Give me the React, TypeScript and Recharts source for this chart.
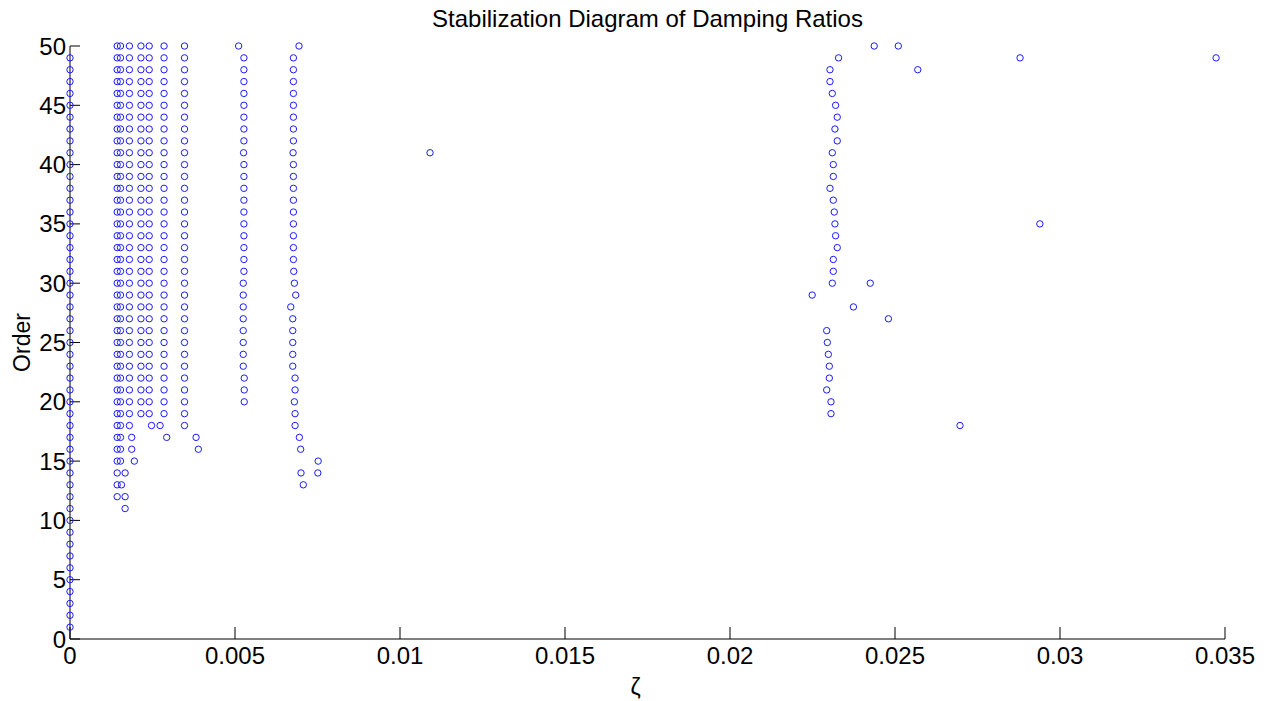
import React from 'react';
import { ScatterChart, Scatter, XAxis, YAxis, Label } from 'recharts';

type Pt = { zeta: number; order: number };

// zeta = 0 column (orders 1..49)
const zeroColumnOrders = [
  1, 2, 3, 4, 5, 6, 7, 8, 9, 10, 11, 12, 13, 14, 15, 16, 17, 18, 19, 20, 21, 22, 23, 24, 25,
  26, 27, 28, 29, 30, 31, 32, 33, 34, 35, 36, 37, 38, 39, 40, 41, 42, 43, 44, 45, 46, 47, 48, 49,
];

// the dense block between 0.0014 and 0.0035, stable from order 19 up
const blockOrders = [
  19, 20, 21, 22, 23, 24, 25, 26, 27, 28, 29, 30, 31, 32, 33, 34, 35, 36, 37, 38, 39, 40, 41, 42,
  43, 44, 45, 46, 47, 48, 49, 50,
];
const blockZetas = [0.00143, 0.00153, 0.0018, 0.00215, 0.0024, 0.00285, 0.00347];

// lower orders of the same block, read point by point
const blockLowPoints: [number, number][] = [
  [0.00143, 18], [0.00153, 18], [0.0018, 18], [0.00247, 18], [0.00273, 18], [0.00347, 18],
  [0.00143, 17], [0.00153, 17], [0.00187, 17], [0.00293, 17], [0.00382, 17],
  [0.00143, 16], [0.00153, 16], [0.00187, 16], [0.00389, 16],
  [0.00143, 15], [0.00153, 15], [0.00195, 15],
  [0.00143, 14], [0.00167, 14],
  [0.00143, 13], [0.00156, 13],
  [0.00143, 12], [0.00167, 12],
  [0.00167, 11],
];

// column near 0.0053
const col5Points: [number, number][] = [
  [0.00511, 50], [0.00527, 49], [0.00527, 48], [0.00527, 47], [0.00527, 46], [0.00527, 45],
  [0.00527, 44], [0.00527, 43], [0.00527, 42], [0.00526, 41], [0.00527, 40], [0.00527, 39],
  [0.00527, 38], [0.00527, 37], [0.00527, 36], [0.00527, 35], [0.00527, 34], [0.00527, 33],
  [0.00527, 32], [0.00527, 31], [0.00525, 30], [0.00525, 29], [0.00525, 28], [0.00525, 27],
  [0.00525, 26], [0.00525, 25], [0.00525, 24], [0.00525, 23], [0.00528, 22], [0.00528, 21],
  [0.00528, 20],
];

// column near 0.0068
const col7Points: [number, number][] = [
  [0.00694, 50], [0.00677, 49], [0.00677, 48], [0.00677, 47], [0.00677, 46], [0.00677, 45],
  [0.00677, 44], [0.00677, 43], [0.00677, 42], [0.00676, 41], [0.00677, 40], [0.00677, 39],
  [0.00677, 38], [0.00677, 37], [0.00677, 36], [0.00677, 35], [0.00677, 34], [0.00677, 33],
  [0.00677, 32], [0.00678, 31], [0.0068, 30], [0.00684, 29], [0.00669, 28], [0.00675, 27],
  [0.00675, 26], [0.00675, 25], [0.00675, 24], [0.00675, 23], [0.00682, 22], [0.00682, 21],
  [0.0068, 20], [0.00682, 19], [0.00682, 18], [0.00695, 17], [0.00699, 16], [0.00752, 15],
  [0.007, 14], [0.00751, 14], [0.00707, 13],
];

// column near 0.023
const col23Points: [number, number][] = [
  [0.02329, 49], [0.02303, 48], [0.02303, 47], [0.0231, 46], [0.0232, 45], [0.02325, 44],
  [0.02318, 43], [0.02325, 42], [0.0231, 41], [0.02313, 40], [0.02313, 39], [0.02303, 38],
  [0.02313, 37], [0.02316, 36], [0.02318, 35], [0.0232, 34], [0.02325, 33], [0.02313, 32],
  [0.02313, 31], [0.0231, 30], [0.02293, 26], [0.02295, 25], [0.02298, 24], [0.02301, 23],
  [0.02301, 22], [0.02293, 21], [0.02306, 20], [0.02306, 19],
];

// scattered, unstable poles
const strayPoints: [number, number][] = [
  [0.01091, 41], [0.02437, 50], [0.0251, 50], [0.02569, 48], [0.02425, 30], [0.02249, 29],
  [0.02374, 28], [0.0248, 27], [0.02697, 18], [0.02879, 49], [0.03473, 49], [0.02939, 35],
];

const xTicks = [0, 0.005, 0.01, 0.015, 0.02, 0.025, 0.03, 0.035];
const yTicks = [0, 5, 10, 15, 20, 25, 30, 35, 40, 45, 50];

const toPts = (list: [number, number][]): Pt[] => list.map(([zeta, order]) => ({ zeta, order }));

const zeroData: Pt[] = zeroColumnOrders.map((order) => ({ zeta: 0, order }));
const blockData: Pt[] = [
  ...blockOrders.flatMap((order) => blockZetas.map((zeta) => ({ zeta, order }))),
  ...toPts(blockLowPoints),
];

const FONT = '"Liberation Sans", Arial, sans-serif';
const BLUE = '#1a1aff';

const Ring = (p: any) => (
  <circle cx={p.cx} cy={p.cy} r={3.2} fill="none" stroke={BLUE} strokeWidth={1} />
);

export default function App() {
  const series = [zeroData, blockData, toPts(col5Points), toPts(col7Points), toPts(col23Points), toPts(strayPoints)];

  return (
    <div style={{ position: 'absolute', left: 0, top: 0, width: 1267, height: 701, background: '#fff', fontFamily: FONT }}>
      <div
        style={{
          position: 'absolute',
          left: 70,
          width: 1155,
          top: 5,
          textAlign: 'center',
          fontSize: 24,
          color: '#000',
        }}
      >
        Stabilization Diagram of Damping Ratios
      </div>
      <ScatterChart width={1267} height={701} margin={{ top: 46, right: 42, bottom: 0, left: 0 }}>
        <XAxis
          type="number"
          dataKey="zeta"
          domain={[0, 0.035]}
          ticks={xTicks}
          interval={0}
          height={62}
          tickSize={-12}
          tickMargin={20}
          tickFormatter={(v: number) => String(v)}
          axisLine={{ stroke: '#000' }}
          tickLine={{ stroke: '#000' }}
          tick={{ fill: '#000', fontSize: 24, fontFamily: FONT }}
        >
          <Label value="ζ" position="insideBottom" offset={6} dx={-12} style={{ fill: '#000', fontSize: 23, fontFamily: FONT }} />
        </XAxis>
        <YAxis
          type="number"
          dataKey="order"
          domain={[0, 50]}
          ticks={yTicks}
          interval={0}
          width={70}
          tickSize={-10}
          tickMargin={14}
          axisLine={{ stroke: '#000' }}
          tickLine={{ stroke: '#000' }}
          tick={{ fill: '#000', fontSize: 24, fontFamily: FONT }}
        >
          <Label
            value="Order"
            angle={-90}
            position="insideLeft"
            offset={22}
            style={{ fill: '#000', fontSize: 23, fontFamily: FONT, textAnchor: 'middle' }}
          />
        </YAxis>
        {series.map((d, i) => (
          <Scatter key={i} data={d} shape={Ring} isAnimationActive={false} />
        ))}
      </ScatterChart>
    </div>
  );
}
